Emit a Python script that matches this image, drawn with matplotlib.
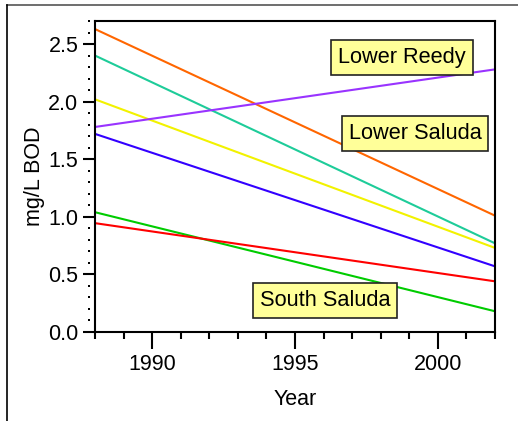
import numpy as np
import matplotlib
matplotlib.use("Agg")
import matplotlib.pyplot as plt
import matplotlib.transforms as mtransforms
from matplotlib.lines import Line2D

plt.rcParams['font.family'] = ['Liberation Sans', 'DejaVu Sans']

# trend lines, values at the first and last year
years = [1988, 2002]
series = {
    "orange": [2.63, 1.01],
    "teal": [2.40, 0.77],
    "yellow": [2.02, 0.73],
    "purple": [1.78, 2.28],
    "blue": [1.72, 0.57],
    "green": [1.04, 0.18],
    "red": [0.945, 0.44],
}
colors = {
    "orange": "#FF6600",
    "teal": "#1ECC99",
    "yellow": "#F2F200",
    "purple": "#9933FF",
    "blue": "#3300FF",
    "green": "#00CC00",
    "red": "#FF0000",
}
labels = ["Lower Reedy", "Lower Saluda", "South Saluda"]
label_x = [1998.75, 1999.2, 1996.05]
label_y = [2.385, 1.72, 0.277]

fig = plt.figure(figsize=(5.18, 4.21), dpi=100)
ax = fig.add_axes([95 / 518, 89 / 421, 400 / 518, 311 / 421])

for name, vals in series.items():
    ax.plot(years, vals, color=colors[name], lw=1.5, solid_capstyle='butt')

for txt, x, y in zip(labels, label_x, label_y):
    ax.text(x, y, txt, fontsize=15.7, ha='center', va='center',
            bbox=dict(boxstyle='square,pad=0.32', fc='#FFFF99', ec='#222222', lw=1.2))

ax.set_xlim(1988, 2002)
ax.set_ylim(0, 2.7)
ax.set_xticks([1990, 1995, 2000])
ax.set_xticks(np.arange(1988, 2003), minor=True)
ax.set_yticks([0.0, 0.5, 1.0, 1.5, 2.0, 2.5])
ax.set_yticklabels(["0.0", "0.5", "1.0", "1.5", "2.0", "2.5"])

for s in ax.spines.values():
    s.set_linewidth(1.5)
ax.tick_params(axis='x', which='major', length=12, width=1.5, pad=4, labelsize=15.5)
ax.tick_params(axis='x', which='minor', length=5, width=1.5)
ax.tick_params(axis='y', which='major', length=9, width=1.5, pad=3, labelsize=15.5)
ax.tick_params(axis='y', which='minor', length=0)

# dotted minor marks left of the y axis
minor_y = [v for v in np.round(np.arange(0.1, 2.75, 0.1), 1) if v % 0.5 > 1e-6 and 0.5 - v % 0.5 > 1e-6]
trans = mtransforms.blended_transform_factory(ax.transAxes, ax.transData) + \
    mtransforms.ScaledTranslation(-6 / 100, 0, fig.dpi_scale_trans)
ax.plot(np.zeros(len(minor_y)), minor_y, 's', ms=1.6, color='black', mew=0,
        transform=trans, clip_on=False)

ax.set_xlabel("Year", fontsize=15.5, labelpad=10)
ax.set_ylabel("mg/L BOD", fontsize=15.5, labelpad=2)

# outer frame lines
fig.add_artist(Line2D([7 / 518, 1], [1 - 5 / 421, 1 - 5 / 421], color='#555555', lw=1.2,
                      transform=fig.transFigure))
fig.add_artist(Line2D([7 / 518, 7 / 518], [0, 1 - 5 / 421], color='black', lw=1.2,
                      transform=fig.transFigure))

fig.savefig("out.png", dpi=100)
